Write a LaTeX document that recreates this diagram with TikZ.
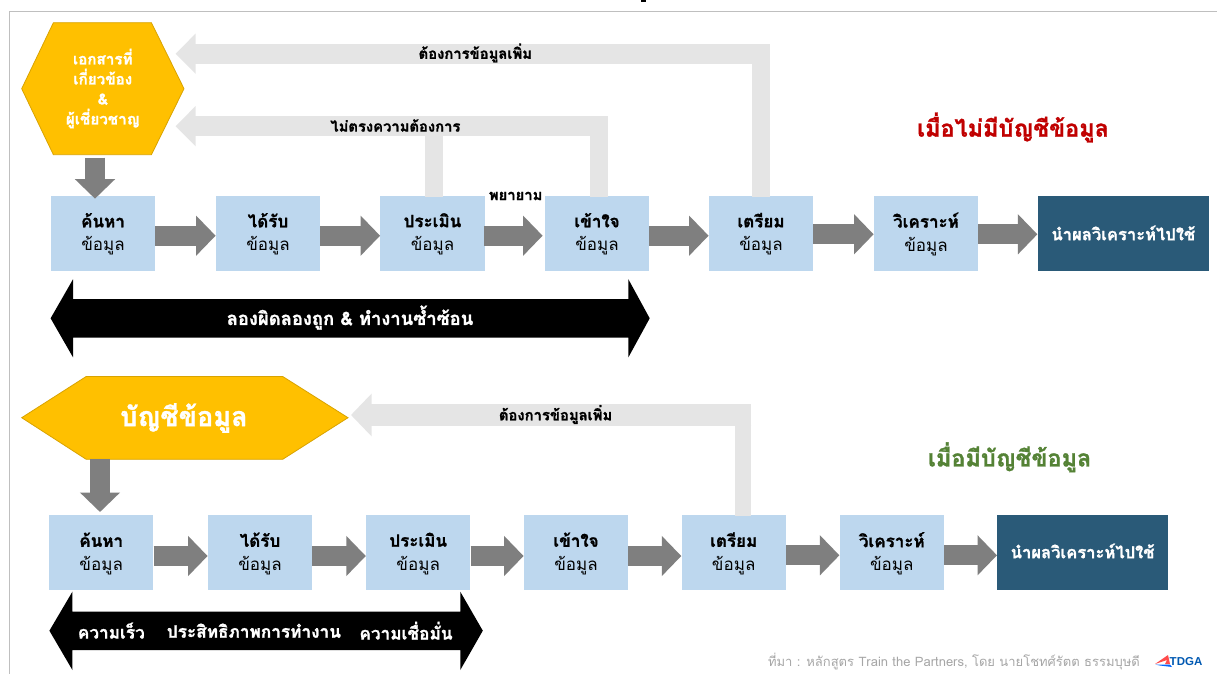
\documentclass[tikz,border=0pt]{standalone}
\usepackage{fontspec}
\setmainfont[Script=Thai,BoldFeatures={FakeBold=1.2}]{Loma}
\newfontfamily\latinbold{Liberation Sans}
\usetikzlibrary{arrows.meta,shapes.geometric,calc}
\definecolor{boxblue}{HTML}{BDD7EE}
\definecolor{flowgray}{HTML}{7F7F7F}
\definecolor{backgray}{HTML}{E5E5E5}
\definecolor{gold}{HTML}{FFC000}
\definecolor{golddark}{HTML}{D9A300}
\definecolor{navy}{HTML}{2A5A78}
\definecolor{redtitle}{HTML}{C00000}
\definecolor{greentitle}{HTML}{548235}
\definecolor{framegray}{HTML}{BFBFBF}
\definecolor{srcgray}{HTML}{A6A6A6}
\tikzset{
  x=1pt,y=-1pt,
  stepbox/.style={fill=boxblue,minimum width=104.4pt,minimum height=75pt,inner sep=0pt},
  steptext/.style={inner sep=0pt,align=center,font=\fontsize{17}{23.6}\selectfont,yshift=-1.2pt},
  endbox/.style={fill=navy,minimum height=75pt,inner sep=0pt},
  endtext/.style={inner sep=0pt,text=white,font=\fontsize{16.6}{18}\selectfont\bfseries},
  flow/.style={flowgray,line width=20pt,-{Triangle[length=19.5pt,width=39pt]}},
  back/.style={backgray,line width=20pt,-{Triangle[length=20pt,width=39pt]}},
  backstem/.style={backgray,line width=18pt},
  lbl/.style={inner sep=0pt,font=\fontsize{14.8}{16}\selectfont\bfseries},
  title/.style={inner sep=0pt,font=\fontsize{23.4}{26}\selectfont\bfseries},
  banner/.style={inner sep=0pt,text=white,font=\fontsize{18.4}{20}\selectfont\bfseries},
  spbanner/.style={inner sep=0pt,text=white,font=\fontsize{17.2}{20}\selectfont\bfseries},
  goldshape/.style={fill=gold,draw=golddark,line width=.8pt,line join=miter},
  blackarrow/.style={fill=black},
}
\begin{document}
\begin{tikzpicture}
\useasboundingbox (0,0) rectangle (1217,674);
\fill[white] (0,0) rectangle (1217,674);
\draw[framegray,line width=1pt] (9.5,674) -- (9.5,11.7) -- (1217,11.7);
\fill[black] (640.5,0) rectangle (645.5,1.6);

% ---------- upper flow ----------
\draw[goldshape] (21.7,88.7) -- (53.4,22.7) -- (151.4,22.7) -- (184,88.7) -- (151.4,154.7) -- (53.4,154.7) -- cycle;
\node (hexA) at (102.8,88.5) [inner sep=0pt,align=center,text=white,font=\fontsize{15.2}{20}\selectfont\bfseries] {เอกสารที่\\เกี่ยวข้อง\\\&\\ผู้เชี่ยวชาญ};

\node[stepbox,label={[steptext]center:{\bfseries ค้นหา}\\ข้อมูล}] (a1) at (103,233) {};
\node[stepbox,label={[steptext]center:{\bfseries ได้รับ}\\ข้อมูล}] (a2) at (268,233) {};
\node[stepbox,label={[steptext]center:{\bfseries ประเมิน}\\ข้อมูล}] (a3) at (432.5,233) {};
\node[stepbox,label={[steptext]center:{\bfseries เข้าใจ}\\ข้อมูล}] (a4) at (597,233) {};
\node[stepbox,label={[steptext]center:{\bfseries เตรียม}\\ข้อมูล}] (a5) at (761,233) {};
\node[stepbox,label={[steptext]center:{\bfseries วิเคราะห์}\\ข้อมูล}] (a6) at (926,233) {};
\node[endbox,minimum width=171.4pt,label={[endtext]center:นำผลวิเคราะห์ไปใช้}] (a7) at (1123.3,233) {};

\coordinate (aDown) at (95,157.7);
\draw[flow] (aDown) -- (95,198.7);
\draw[flow] ([yshift=-2.7pt]a1.east) -- ([yshift=-2.7pt]a2.west);
\draw[flow] ([yshift=-2.7pt]a2.east) -- ([yshift=-2.7pt]a3.west);
\draw[flow] ([yshift=-2.7pt,xshift=-1pt]a3.east) -- ([yshift=-2.7pt,xshift=-2pt]a4.west);
\draw[flow] ([yshift=-2.7pt]a4.east) -- ([yshift=-2.7pt]a5.west);
\draw[flow] ([yshift=-1.3pt]a5.east) -- ([yshift=-1.3pt]a6.west);
\draw[flow] ([yshift=-1.3pt]a6.east) -- ([yshift=-1.3pt]a7.west);

% feedback arrows
\coordinate (tipMore) at (175.6,53.7);
\coordinate (tipMiss) at (175.6,126.2);
\draw[backstem] (760.6,197) -- (760.6,43.7);
\draw[back] (769.9,53.7) -- (tipMore);
\draw[backstem] (598.5,197) -- (598.5,116.2);
\draw[backstem] (434,197) -- (434,130);
\draw[back] (607.5,126.2) -- (tipMiss);

\node[lbl] (lMore) at (475.3,53) {ต้องการข้อมูลเพิ่ม};
\node[lbl] (lMiss) at (395.4,125.5) {ไม่ตรงความต้องการ};
\node[lbl] (lTry) at (515.6,196) {พยายาม};

\fill[blackarrow] (50.6,318.3) -- (73,279.3) -- (73,299) -- (628.4,299) -- (628.4,279.3) -- (649.7,318.3) -- (628.4,357.3) -- (628.4,337.7) -- (73,337.7) -- (73,357.3) -- cycle;
\node[banner] (bannerA) at (350,317.5) {ลองผิดลองถูก \& ทำงานซ้ำซ้อน};

\node[title,text=redtitle] (titleA) at (1013,127.5) {เมื่อไม่มีบัญชีข้อมูล};

% ---------- lower flow ----------
\draw[goldshape] (21.7,417.7) -- (86.2,376.5) -- (282.7,376.5) -- (348,417.7) -- (282.7,459.3) -- (86.2,459.3) -- cycle;
\node (hexB) at (183.9,418) [inner sep=0pt,text=white,font=\fontsize{27}{30}\selectfont\bfseries] {บัญชีข้อมูล};

\node[stepbox,label={[steptext]center:{\bfseries ค้นหา}\\ข้อมูล}] (b1) at (101.2,552.5) {};
\node[stepbox,label={[steptext]center:{\bfseries ได้รับ}\\ข้อมูล}] (b2) at (260,552.5) {};
\node[stepbox,label={[steptext]center:{\bfseries ประเมิน}\\ข้อมูล}] (b3) at (418.2,552.5) {};
\node[stepbox,label={[steptext]center:{\bfseries เข้าใจ}\\ข้อมูล}] (b4) at (576,552.5) {};
\node[stepbox,label={[steptext]center:{\bfseries เตรียม}\\ข้อมูล}] (b5) at (733.7,552.5) {};
\node[stepbox,label={[steptext]center:{\bfseries วิเคราะห์}\\ข้อมูล}] (b6) at (891.8,552.5) {};
\node[endbox,minimum width=170.8pt,label={[endtext,yshift=1.5pt]center:นำผลวิเคราะห์ไปใช้}] (b7) at (1082.6,552.5) {};

\coordinate (bDown) at (100,459.3);
\draw[flow] (bDown) -- (100,512);
\draw[flow] ([yshift=-3.5pt]b1.east) -- ([yshift=-3.5pt]b2.west);
\draw[flow] ([yshift=-3.5pt]b2.east) -- ([yshift=-3.5pt]b3.west);
\draw[flow] ([yshift=-3.5pt]b3.east) -- ([yshift=-3.5pt]b4.west);
\draw[flow] ([yshift=-3.5pt]b4.east) -- ([yshift=-3.5pt]b5.west);
\draw[flow] ([yshift=-2.8pt]b5.east) -- ([yshift=-2.8pt]b6.west);
\draw[flow] ([yshift=-2.8pt]b6.east) -- ([yshift=-2.8pt]b7.west);

\coordinate (tipMoreB) at (351,415);
\draw[backstem,line width=16.3pt] (743.2,515.7) -- (743.2,404);
\draw[back,line width=22pt,-{Triangle[length=20.7pt,width=41.7pt]}] (751.3,415) -- (tipMoreB);
\node[lbl] (lMoreB) at (555.6,414.5) {ต้องการข้อมูลเพิ่ม};

\fill[blackarrow] (49.4,630.7) -- (72.4,591.7) -- (72.4,611.7) -- (460.3,611.7) -- (460.3,591.7) -- (482.8,630.7) -- (460.3,670) -- (460.3,650) -- (72.4,650) -- (72.4,670) -- cycle;
\node[spbanner] (sp1) at (111.3,630.7) {ความเร็ว};
\node[spbanner] (sp2) at (253.9,630.7) {ประสิทธิภาพการทำงาน};
\node[spbanner] (sp3) at (406,630.7) {ความเชื่อมั่น};

\node[title,text=greentitle] (titleB) at (1009.6,457.3) {เมื่อมีบัญชีข้อมูล};

% ---------- source line ----------
\node[inner sep=0pt,text=srcgray,font=\fontsize{13}{16}\selectfont] (src) at (954,661.5) {ที่มา : หลักสูตร Train the Partners, โดย นายโชทศ์รัตต ธรรมบุษดี};
\fill[red!70!white] (1155,664) -- (1168,655) -- (1170,664) -- (1165,664) -- (1167,660) -- cycle;
\fill[blue!60!cyan] (1155,664.5) -- (1170,664.5) -- (1172,667) -- (1160,665.5) -- cycle;
\node[inner sep=0pt,text=blue!50!cyan!70!black,font=\latinbold\fontsize{11.5}{13}\selectfont\bfseries] (logo) at (1186,662) {TDGA};
\end{tikzpicture}
\end{document}
